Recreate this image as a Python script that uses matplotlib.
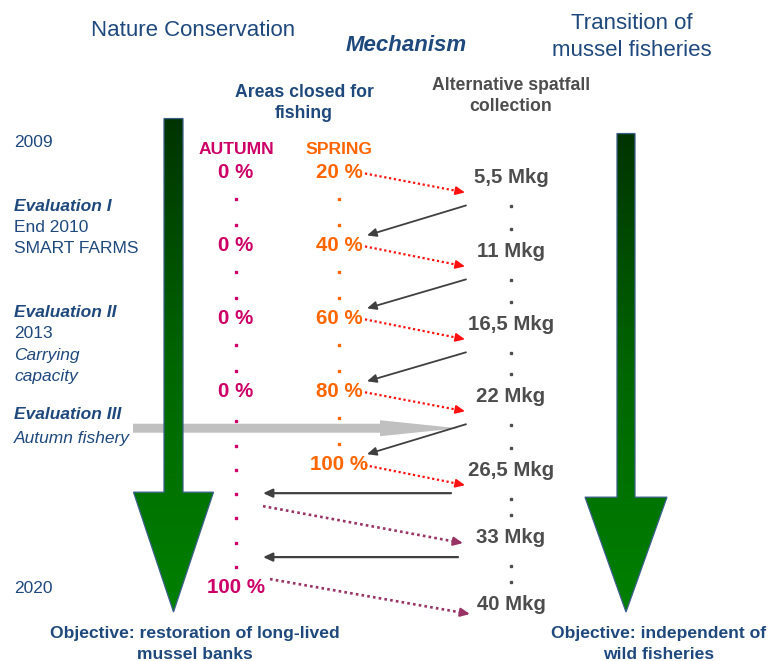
import matplotlib
matplotlib.use("Agg")
import matplotlib.pyplot as plt
from matplotlib.patches import Polygon, FancyArrow
from matplotlib.colors import LinearSegmentedColormap
import numpy as np

plt.rcParams['font.family'] = ['Liberation Sans', 'DejaVu Sans']

# data
autumn_pct = [0, 0, 0, 0, 100]
spring_pct = [20, 40, 60, 80, 100]
spat_mkg = [5.5, 11, 16.5, 22, 26.5, 33, 40]

timeline = [
    ("2009", "normal", "normal"),
    ("Evaluation I", "bold", "italic"),
    ("End 2010", "normal", "normal"),
    ("SMART FARMS", "normal", "normal"),
    ("Evaluation II", "bold", "italic"),
    ("2013", "normal", "normal"),
    ("Carrying", "normal", "italic"),
    ("capacity", "normal", "italic"),
    ("Evaluation III", "bold", "italic"),
    ("Autumn fishery", "normal", "italic"),
    ("2020", "normal", "normal"),
]

# layout (pixels)
timeline_y = [142, 206, 227, 248, 312, 333, 355, 376, 414, 438, 588]
autumn_x, spring_x, mkg_x = 236, 339, 511
spring_y = [172, 245, 318, 391, 464]
autumn_y = [172, 245, 318, 391, 587]
mkg_y = [177, 251, 324, 396, 470, 537, 604]

BLUE = '#1F497D'
MAGENTA = '#CC0066'
ORANGE = '#FF6600'
GREY = '#4D4D4D'

fig = plt.figure(figsize=(7.69, 6.61), dpi=100)
ax = fig.add_axes([0, 0, 1, 0.999])
ax.axis('off')

# titles
ax.text(193, 30, "Nature Conservation", fontsize=16, color=BLUE, ha='center', va='center')
ax.text(406, 45, "Mechanism", fontsize=16, color=BLUE, ha='center', va='center',
        fontweight='bold', fontstyle='italic')
ax.text(632, 23, "Transition of", fontsize=16, color=BLUE, ha='center', va='center')
ax.text(632, 50, "mussel fisheries", fontsize=16, color=BLUE, ha='center', va='center')

ax.text(304, 92, "Areas closed for", fontsize=12.7, color=BLUE, ha='center', va='center', fontweight='bold')
ax.text(304, 113, "fishing", fontsize=12.7, color=BLUE, ha='center', va='center', fontweight='bold')
ax.text(511, 85, "Alternative spatfall", fontsize=12.7, color=GREY, ha='center', va='center', fontweight='bold')
ax.text(511, 106, "collection", fontsize=12.7, color=GREY, ha='center', va='center', fontweight='bold')

# left timeline
for (label, w, st), y in zip(timeline, timeline_y):
    ax.text(14, y, label, fontsize=12.5, color=BLUE, ha='left', va='center',
            fontweight=w, fontstyle=st)

# green arrows with gradient
green = LinearSegmentedColormap.from_list('g', ['#003300', '#006600', '#008000'])
grad = np.linspace(0, 1, 256).reshape(-1, 1)


def big_arrow(cx, top, shaft_w, head_y, head_w, tip):
    pts = [(cx - shaft_w / 2, top), (cx + shaft_w / 2, top), (cx + shaft_w / 2, head_y),
           (cx + head_w / 2, head_y), (cx, tip), (cx - head_w / 2, head_y),
           (cx - shaft_w / 2, head_y)]
    poly = Polygon(pts, closed=True, facecolor='none', edgecolor='#3B5F8A', lw=0.9, zorder=4)
    ax.add_patch(poly)
    im = ax.imshow(grad, extent=(cx - head_w / 2, cx + head_w / 2, tip, top),
                   aspect='auto', cmap=green, zorder=3)
    im.set_clip_path(poly)


# grey arrow (behind green)
ax.add_patch(FancyArrow(133, 428, 325, 0, width=9, head_width=16, head_length=78,
                        length_includes_head=True, color='#C0C0C0', lw=0, zorder=2))

big_arrow(173.5, 118, 19, 492, 80, 612)
big_arrow(626, 133, 18, 497, 82, 612)

# headers
ax.text(autumn_x, 149, "AUTUMN", fontsize=12.6, color=MAGENTA, ha='center', va='center', fontweight='bold')
ax.text(spring_x, 149, "SPRING", fontsize=12.6, color=ORANGE, ha='center', va='center', fontweight='bold')

for v, y in zip(autumn_pct, autumn_y):
    ax.text(autumn_x, y, f"{v} %", fontsize=14.8, color=MAGENTA, ha='center', va='center', fontweight='bold', zorder=5)
for v, y in zip(spring_pct, spring_y):
    ax.text(spring_x, y, f"{v} %", fontsize=14.8, color=ORANGE, ha='center', va='center', fontweight='bold', zorder=5)
for v, y in zip(spat_mkg, mkg_y):
    ax.text(mkg_x, y, f"{v:g}".replace('.', ',') + " Mkg", fontsize=14.7, color=GREY,
            ha='center', va='center', fontweight='bold', zorder=5)

# dots between rows
DOT = 1.8
for i in range(len(spring_y) - 1):
    ys = [spring_y[i] + 27, spring_y[i + 1] - 20]
    ax.plot([spring_x] * 2, ys, 's', ms=DOT, color=ORANGE, zorder=5)
for i in range(3):
    ys = [autumn_y[i] + 27, autumn_y[i + 1] - 20]
    ax.plot([autumn_x] * 2, ys, 's', ms=DOT, color=MAGENTA, zorder=5)
ax.plot([autumn_x] * 7, np.linspace(autumn_y[3] + 30, autumn_y[4] - 20, 7), 's', ms=DOT,
        color=MAGENTA, zorder=5)
for i in range(len(mkg_y) - 1):
    ys = [mkg_y[i] + 29, mkg_y[i + 1] - 22]
    ax.plot([mkg_x] * 2, ys, 's', ms=DOT, color=GREY, zorder=5)


def arrow(p0, p1, color, dotted=False, lw=1.3):
    p0, p1 = np.array(p0, float), np.array(p1, float)
    style = '-|>,head_length=0.55,head_width=0.25'
    if dotted:
        d = (p1 - p0) / np.hypot(*(p1 - p0))
        mid = p1 - d * 6
        ax.plot([p0[0], mid[0]], [p0[1], mid[1]], color=color, lw=lw + 0.3,
                linestyle=(0, (1, 1.2)), zorder=4)
        ax.annotate('', xy=p1, xytext=mid,
                    arrowprops=dict(arrowstyle=style, color=color, lw=lw,
                                    shrinkA=0, shrinkB=0), zorder=4)
    else:
        ax.annotate('', xy=p1, xytext=p0,
                    arrowprops=dict(arrowstyle=style, color=color, lw=lw,
                                    shrinkA=0, shrinkB=0), zorder=4)


RED = '#FF1010'
PURPLE = '#993366'
DARK = '#404040'

for i in range(5):
    arrow((spring_x + 26, spring_y[i] + 1), (mkg_x - 46, mkg_y[i] + 15), RED, dotted=True)
for i in range(4):
    arrow((mkg_x - 45, mkg_y[i] + 28), (spring_x + 28, spring_y[i + 1] - 10), DARK)

arrow((mkg_x - 60, 493), (263, 493), DARK, lw=1.6)
arrow((mkg_x - 53, 557), (263, 557), DARK, lw=1.6)
arrow((263, 506), (mkg_x - 48, mkg_y[5] + 6), PURPLE, dotted=True, lw=1.6)
arrow((270, 579), (mkg_x - 41, mkg_y[6] + 10), PURPLE, dotted=True, lw=1.6)

# objectives
ax.text(195, 633, "Objective: restoration of long-lived", fontsize=12.6, color=BLUE,
        ha='center', va='center', fontweight='bold')
ax.text(195, 654, "mussel banks", fontsize=12.6, color=BLUE, ha='center', va='center', fontweight='bold')
ax.text(659, 633, "Objective: independent of", fontsize=12.6, color=BLUE,
        ha='center', va='center', fontweight='bold')
ax.text(659, 654, "wild fisheries", fontsize=12.6, color=BLUE, ha='center', va='center', fontweight='bold')

ax.set_xlim(0, 769)
ax.set_ylim(661, 0)

fig.savefig("out.png", dpi=100)
